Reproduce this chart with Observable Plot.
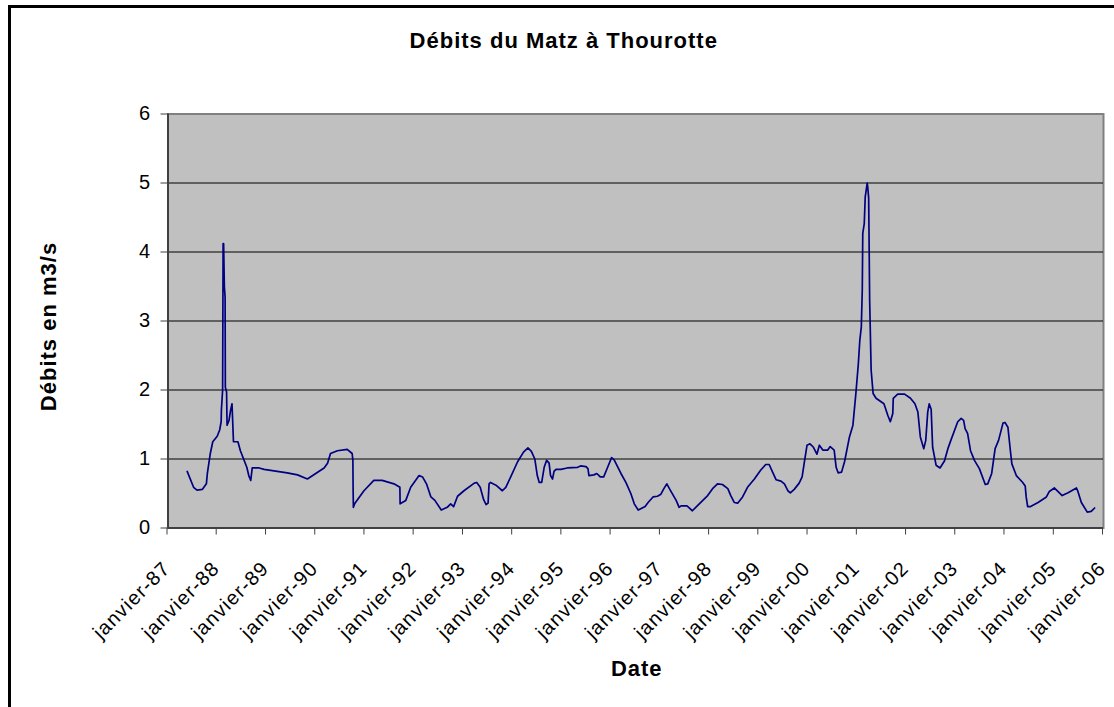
<!DOCTYPE html>
<html><head><meta charset="utf-8">
<script src="https://cdn.jsdelivr.net/npm/d3@7"></script>
<script src="https://cdn.jsdelivr.net/npm/@observablehq/plot@0.6"></script>
<style>
body{margin:0;background:#fff;}
#wrap{position:relative;width:1114px;height:707px;overflow:hidden;background:#fff;}
#border{position:absolute;left:8px;top:5px;width:1130px;height:730px;border-left:3px solid #000;border-top:3px solid #000;}
#chart{position:absolute;left:0;top:0;}
#chart svg g[aria-label="x-axis tick label"] text{letter-spacing:1.2px;}
#chart svg g[aria-label="text"] text{letter-spacing:1px;}
</style></head><body>
<div id="wrap"><div id="border"></div><div id="chart"></div></div>
<script>
const chartTitle = "Débits du Matz à Thourotte";
const yLabel = "Débits en m3/s";
const xLabel = "Date";

// decimal years of each reading
const years = [
1987.39,1987.52,1987.59,1987.70,1987.78,1987.80,1987.86,1987.91,
1988.00,1988.05,1988.08,1988.085,1988.11,1988.12,1988.13,1988.145,1988.16,1988.165,1988.19,1988.20,1988.24,1988.27,1988.30,1988.33,1988.42,1988.47,1988.60,1988.64,1988.68,1988.71,1988.85,1988.95,
1989.42,1989.63,1989.83,
1990.17,1990.24,1990.30,1990.44,1990.64,1990.74,1990.755,1990.76,1990.765,1990.79,1990.98,
1991.18,1991.35,1991.59,1991.71,1991.715,1991.83,1991.93,
1992.10,1992.17,1992.25,1992.34,1992.42,1992.55,1992.67,1992.74,1992.80,1992.88,
1993.01,1993.22,1993.27,1993.34,1993.41,1993.46,1993.50,1993.52,1993.55,1993.66,1993.79,1993.86,1993.96,
1994.10,1994.22,1994.31,1994.38,1994.45,1994.50,1994.54,1994.59,1994.64,1994.69,1994.74,1994.77,1994.81,1994.84,1994.88,1994.98,
1995.11,1995.32,1995.38,1995.49,1995.53,1995.55,1995.65,1995.71,1995.78,1995.85,1995.93,
1996.01,1996.06,1996.20,1996.30,1996.40,1996.47,1996.55,1996.69,1996.75,1996.85,1996.94,
1997.01,1997.07,1997.13,1997.20,1997.32,1997.38,1997.42,1997.54,1997.65,1997.79,1997.96,
1998.06,1998.16,1998.26,1998.37,1998.43,1998.50,1998.57,1998.67,1998.77,1998.91,
1999.04,1999.14,1999.21,1999.28,1999.35,1999.45,1999.52,1999.59,1999.64,1999.72,1999.82,1999.88,1999.92,1999.98,
2000.04,2000.11,2000.18,2000.23,2000.30,2000.40,2000.45,2000.53,2000.57,2000.61,2000.68,2000.74,2000.84,2000.91,2000.97,
2001.02,2001.05,2001.08,2001.10,2001.11,2001.14,2001.16,2001.20,2001.21,2001.23,2001.25,2001.28,2001.32,2001.38,2001.54,2001.62,2001.67,2001.72,2001.73,2001.82,2001.96,
2002.08,2002.17,2002.23,2002.28,2002.35,2002.39,2002.43,2002.46,2002.50,2002.53,2002.60,2002.68,2002.77,2002.84,2002.90,
2003.04,2003.11,2003.16,2003.19,2003.24,2003.30,2003.38,2003.48,2003.60,2003.65,2003.73,2003.80,2003.87,2003.96,
2004.00,2004.06,2004.11,2004.14,2004.23,2004.36,2004.41,2004.43,2004.46,2004.52,2004.67,2004.84,2004.90,
2005.00,2005.16,2005.28,2005.45,2005.48,2005.55,2005.67,2005.75,2005.82
];

// flow in m3/s
const flows = [
0.82,0.59,0.55,0.56,0.64,0.79,1.08,1.25,
1.33,1.42,1.54,1.71,2.0,4.12,4.12,3.5,3.35,2.04,1.97,1.49,1.56,1.70,1.80,1.25,1.25,1.12,0.88,0.76,0.69,0.87,0.87,0.85,
0.80,0.77,0.71,
0.87,0.94,1.08,1.12,1.14,1.08,0.98,0.54,0.30,0.35,0.54,
0.69,0.69,0.64,0.59,0.35,0.40,0.59,
0.76,0.74,0.64,0.45,0.40,0.26,0.30,0.35,0.31,0.46,
0.54,0.65,0.66,0.59,0.41,0.34,0.36,0.64,0.66,0.62,0.54,0.59,0.74,
0.96,1.10,1.16,1.11,1.00,0.76,0.66,0.66,0.88,0.98,0.94,0.76,0.71,0.82,0.85,0.85,
0.87,0.88,0.90,0.89,0.86,0.76,0.77,0.79,0.74,0.74,0.88,
1.02,0.99,0.79,0.66,0.50,0.35,0.26,0.31,0.37,0.45,0.46,
0.49,0.57,0.64,0.55,0.40,0.30,0.32,0.32,0.25,0.35,0.47,
0.57,0.64,0.63,0.57,0.47,0.37,0.36,0.45,0.59,0.71,
0.84,0.92,0.92,0.81,0.70,0.68,0.64,0.54,0.51,0.56,0.65,0.74,0.93,1.20,
1.22,1.17,1.07,1.20,1.13,1.13,1.18,1.13,0.88,0.80,0.81,0.96,1.32,1.49,1.95,
2.38,2.72,2.91,3.45,4.27,4.41,4.80,5.0,4.95,4.78,3.30,2.29,1.95,1.88,1.80,1.63,1.54,1.66,1.88,1.94,1.94,
1.88,1.80,1.68,1.32,1.15,1.27,1.68,1.80,1.72,1.17,0.91,0.87,0.97,1.15,1.27,
1.54,1.59,1.56,1.44,1.37,1.12,0.98,0.86,0.63,0.64,0.79,1.15,1.27,1.52,
1.53,1.46,1.12,0.93,0.76,0.66,0.61,0.45,0.31,0.31,0.37,0.45,0.53,
0.58,0.47,0.51,0.58,0.53,0.37,0.23,0.24,0.29
];

const tickYears = [1987,1988,1989,1990,1991,1992,1993,1994,1995,1996,1997,1998,1999,2000,2001,2002,2003,2004,2005,2006];
const tickLabels = ["janvier-87","janvier-88","janvier-89","janvier-90","janvier-91","janvier-92","janvier-93","janvier-94","janvier-95","janvier-96","janvier-97","janvier-98","janvier-99","janvier-00","janvier-01","janvier-02","janvier-03","janvier-04","janvier-05","janvier-06"];
const yTicks = [0,1,2,3,4,5,6];
const gridValues = [1,2,3,4,5];

function toDate(y){
  const Y = Math.floor(y);
  const s = Date.UTC(Y,0,1), e = Date.UTC(Y+1,0,1);
  return new Date(s + (y - Y) * (e - s));
}
const data = years.map((y, i) => ({date: toDate(y), flow: flows[i]}));
const tickDates = tickYears.map(y => toDate(y));

const font = "'Liberation Sans', Arial, sans-serif";
const chart = Plot.plot({
  width: 1114, height: 707,
  marginLeft: 167.5, marginRight: 11, marginTop: 113.5, marginBottom: 179.5,
  style: {fontFamily: font, background: "transparent", color: "#000", overflow: "visible"},
  x: {type: "utc", domain: [toDate(1987), toDate(2006)]},
  y: {domain: [0, 6]},
  marks: [
    Plot.frame({fill: "#c0c0c0", stroke: "#808080", strokeWidth: 2}),
    Plot.ruleY(gridValues, {stroke: "#000", strokeWidth: 1}),
    Plot.ruleY([0], {stroke: "#404040", strokeWidth: 2}),
    Plot.ruleX([toDate(1987)], {stroke: "#404040", strokeWidth: 2}),
    Plot.lineY(data, {x: "date", y: "flow", stroke: "#000080", strokeWidth: 1.7}),
    Plot.axisY({ticks: yTicks, tickFormat: d => String(d), tickSize: 7, tickPadding: 11, fontSize: 20, label: null, stroke: "#404040"}),
    Plot.axisX({ticks: tickDates, tickFormat: d => tickLabels[tickYears.indexOf(d.getUTCFullYear())], tickSize: 7, tickPadding: 30, dx: -1, tickRotate: -45, fontSize: 20, label: null, stroke: "#404040"}),
    Plot.text([chartTitle], {text: d => d, frameAnchor: "top", lineAnchor: "middle", textAnchor: "middle", dx: -72, dy: -73.5, fontSize: 22, fontWeight: "bold"}),
    Plot.text([yLabel], {text: d => d, frameAnchor: "left", lineAnchor: "middle", textAnchor: "middle", dx: -119, dy: 5.5, rotate: -90, fontSize: 22, fontWeight: "bold"}),
    Plot.text([xLabel], {text: d => d, frameAnchor: "bottom", lineAnchor: "middle", textAnchor: "middle", dx: 1, dy: 140.5, fontSize: 22, fontWeight: "bold"})
  ]
});
document.getElementById("chart").appendChild(chart);
</script>
</body></html>
